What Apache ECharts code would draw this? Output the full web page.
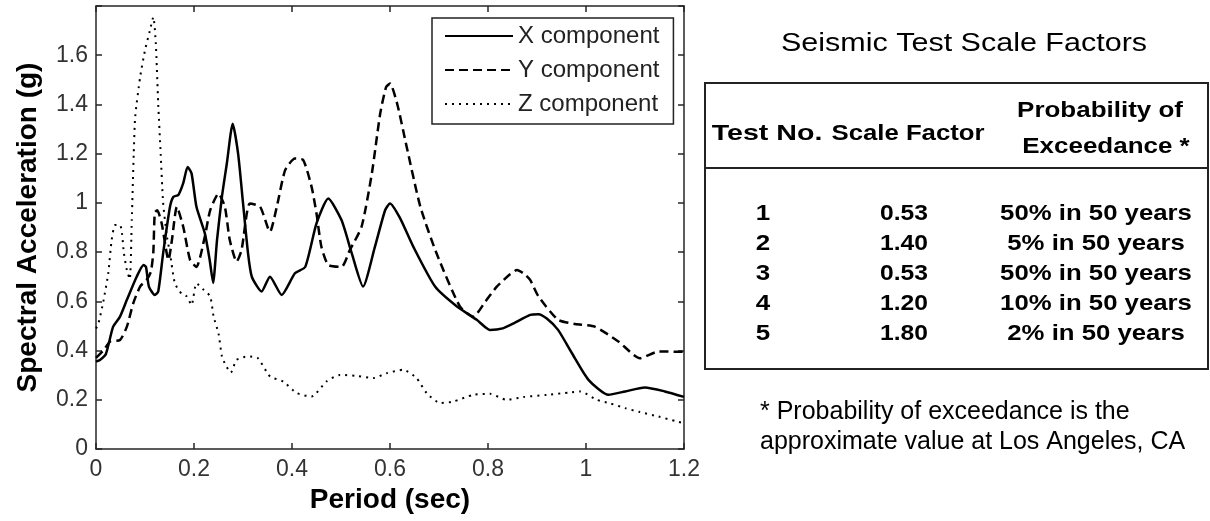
<!DOCTYPE html>
<html lang="en" style="height: 100%">
<head>
  <meta charset="utf-8">
</head>
<body style="height: 100%; margin: 0; background: #fff">
  <div id="container" style="width: 1210px; height: 521px"></div>

  <script type="text/javascript" src="https://fastly.jsdelivr.net/npm/echarts@6.0.0/dist/echarts.min.js"></script>

  <script type="text/javascript">
    // response spectra, period (sec) / acceleration (g)
    var xPeriod = [0, 0.008, 0.02, 0.035, 0.049, 0.063, 0.083, 0.097, 0.102, 0.108, 0.12, 0.127, 0.137, 0.151, 0.158, 0.168, 0.178, 0.187, 0.195, 0.205, 0.222, 0.232, 0.239, 0.247, 0.257, 0.267, 0.279, 0.29, 0.30, 0.31, 0.318, 0.338, 0.355, 0.379, 0.406, 0.427, 0.45, 0.474, 0.501, 0.522, 0.545, 0.569, 0.59, 0.60, 0.62, 0.648, 0.692, 0.736, 0.777, 0.804, 0.83, 0.852, 0.886, 0.903, 0.92, 0.943, 0.971, 1.005, 1.046, 1.08, 1.12, 1.161, 1.2];
    var xAccel = [0.355, 0.362, 0.385, 0.497, 0.538, 0.606, 0.70, 0.748, 0.74, 0.66, 0.626, 0.64, 0.795, 0.984, 1.025, 1.032, 1.08, 1.146, 1.12, 0.984, 0.877, 0.768, 0.675, 0.85, 1.025, 1.16, 1.322, 1.2, 1.0, 0.8, 0.70, 0.64, 0.70, 0.626, 0.714, 0.74, 0.917, 1.018, 0.93, 0.795, 0.66, 0.82, 0.97, 0.998, 0.94, 0.82, 0.66, 0.58, 0.525, 0.484, 0.49, 0.51, 0.545, 0.548, 0.53, 0.484, 0.39, 0.281, 0.22, 0.234, 0.25, 0.234, 0.212];

    var yPeriod = [0, 0.015, 0.029, 0.049, 0.063, 0.076, 0.09, 0.103, 0.112, 0.117, 0.12, 0.125, 0.134, 0.148, 0.155, 0.165, 0.178, 0.192, 0.205, 0.222, 0.233, 0.25, 0.263, 0.273, 0.287, 0.297, 0.314, 0.335, 0.355, 0.369, 0.386, 0.406, 0.423, 0.44, 0.45, 0.46, 0.474, 0.501, 0.518, 0.542, 0.563, 0.58, 0.592, 0.60, 0.615, 0.634, 0.662, 0.695, 0.743, 0.77, 0.795, 0.818, 0.845, 0.859, 0.875, 0.886, 0.903, 0.943, 0.978, 1.018, 1.066, 1.11, 1.148, 1.2];
    var yAccel = [0.37, 0.40, 0.437, 0.443, 0.497, 0.592, 0.66, 0.687, 0.72, 0.80, 0.96, 0.97, 0.917, 0.768, 0.85, 0.984, 0.903, 0.768, 0.74, 0.862, 0.97, 1.038, 0.984, 0.849, 0.761, 0.808, 0.998, 0.984, 0.883, 0.984, 1.133, 1.18, 1.174, 1.065, 0.957, 0.822, 0.748, 0.74, 0.808, 0.903, 1.12, 1.363, 1.47, 1.485, 1.40, 1.228, 0.984, 0.795, 0.578, 0.538, 0.60, 0.66, 0.71, 0.727, 0.71, 0.687, 0.62, 0.525, 0.508, 0.497, 0.437, 0.369, 0.396, 0.395];

    var zPeriod = [0, 0.005, 0.015, 0.025, 0.032, 0.039, 0.049, 0.053, 0.057, 0.063, 0.069, 0.073, 0.077, 0.08, 0.09, 0.10, 0.11, 0.117, 0.122, 0.127, 0.132, 0.137, 0.145, 0.151, 0.161, 0.175, 0.185, 0.195, 0.205, 0.218, 0.233, 0.24, 0.25, 0.257, 0.265, 0.275, 0.287, 0.31, 0.33, 0.355, 0.382, 0.41, 0.44, 0.47, 0.498, 0.532, 0.566, 0.593, 0.627, 0.654, 0.675, 0.702, 0.729, 0.77, 0.804, 0.838, 0.872, 0.92, 0.967, 0.988, 1.022, 1.05, 1.08, 1.11, 1.148, 1.185, 1.2];
    var zAccel = [0.49, 0.51, 0.60, 0.714, 0.85, 0.91, 0.91, 0.877, 0.795, 0.727, 0.69, 0.93, 1.2, 1.35, 1.51, 1.62, 1.70, 1.755, 1.65, 1.40, 1.20, 1.00, 0.86, 0.796, 0.673, 0.63, 0.62, 0.585, 0.673, 0.65, 0.62, 0.538, 0.47, 0.376, 0.34, 0.31, 0.362, 0.376, 0.37, 0.295, 0.274, 0.227, 0.213, 0.274, 0.301, 0.297, 0.288, 0.308, 0.322, 0.288, 0.227, 0.187, 0.193, 0.22, 0.224, 0.2, 0.211, 0.22, 0.23, 0.234, 0.2, 0.185, 0.166, 0.15, 0.132, 0.112, 0.105];

    var seriesNames = ['X component', 'Y component', 'Z component'];

    // table on the right
    var tableTitle = 'Seismic Test Scale Factors';
    var tableHeader = ['Test No.', 'Scale Factor', 'Probability of', 'Exceedance *'];
    var testNo = ['1', '2', '3', '4', '5'];
    var scaleFactor = ['0.53', '1.40', '0.53', '1.20', '1.80'];
    var exceedance = ['50% in 50 years', '5% in 50 years', '50% in 50 years', '10% in 50 years', '2% in 50 years'];
    var footnote = ['* Probability of exceedance is the', 'approximate value at Los Angeles, CA'];

    var FONT = '"Liberation Sans", Arial, Helvetica, sans-serif';

    function zip(xs, ys) {
      return xs.map(function (x, i) { return [x, ys[i]]; });
    }

    function txt(x, y, text, size, bold, align, sx) {
      return {
        type: 'text', x: x, y: y, scaleX: sx || 1,
        style: {
          text: text, fill: '#000',
          font: (bold ? 'bold ' : '') + size + 'px ' + FONT,
          align: align || 'center', verticalAlign: 'middle'
        }
      };
    }

    var graphic = [];
    graphic.push(txt(964, 44, tableTitle, 25, false, 'center', 1.22));
    graphic.push({
      type: 'rect', shape: { x: 705, y: 83, width: 503, height: 286 },
      style: { fill: 'none', stroke: '#222', lineWidth: 2 }
    });
    graphic.push({
      type: 'line', shape: { x1: 705, y1: 168, x2: 1208, y2: 168 },
      style: { stroke: '#222', lineWidth: 2 }
    });
    graphic.push(txt(767, 134, tableHeader[0], 22, true, 'center', 1.3));
    graphic.push(txt(908, 134, tableHeader[1], 22, true, 'center', 1.17));
    graphic.push(txt(1100, 111, tableHeader[2], 22, true, 'center', 1.18));
    graphic.push(txt(1106, 147, tableHeader[3], 22, true, 'center', 1.18));
    testNo.forEach(function (t, i) {
      var y = 214 + i * 30;
      graphic.push(txt(763, y, t, 22, true, 'center', 1.18));
      graphic.push(txt(904, y, scaleFactor[i], 22, true, 'center', 1.12));
      graphic.push(txt(1096, y, exceedance[i], 22, true, 'center', 1.17));
    });
    footnote.forEach(function (t, i) {
      graphic.push(txt(760, 412 + i * 30, t, 25, false, 'left', 1.0));
    });

    var dom = document.getElementById('container');
    var myChart = echarts.init(dom, null, { renderer: 'canvas' });

    var axisColor = '#262626';
    var frameLine = { show: true, onZero: false, lineStyle: { color: axisColor, width: 1.5 } };
    var frameTick = { show: true, inside: true, length: 6, lineStyle: { color: axisColor, width: 1.5 } };

    var option = {
      backgroundColor: '#fff',
      animation: false,
      textStyle: { fontFamily: FONT },
      grid: { left: 96, right: 526, top: 6, bottom: 72 },
      legend: {
        orient: 'vertical',
        left: 432, top: 18,
        padding: [6, 14, 8, 12],
        itemGap: 10,
        itemWidth: 68, itemHeight: 14,
        borderColor: '#222', borderWidth: 1.5,
        backgroundColor: '#fff',
        itemStyle: { opacity: 0 },
        textStyle: { fontSize: 24, color: '#222', fontFamily: FONT },
        data: seriesNames
      },
      xAxis: [{
        type: 'value', min: 0, max: 1.2, interval: 0.2,
        name: 'Period (sec)', nameLocation: 'middle', nameGap: 30,
        nameTextStyle: { fontSize: 28, fontWeight: 'bold', color: '#000', fontFamily: FONT },
        axisLine: frameLine,
        axisTick: frameTick,
        axisLabel: { fontSize: 23, color: '#333', margin: 9 },
        splitLine: { show: false }
      }, {
        type: 'value', min: 0, max: 1.2, interval: 0.2, position: 'top',
        axisLine: frameLine,
        axisTick: frameTick,
        axisLabel: { show: false },
        splitLine: { show: false }
      }],
      yAxis: [{
        type: 'value', min: 0, max: 1.8, interval: 0.2,
        name: 'Spectral Acceleration (g)', nameLocation: 'middle', nameGap: 54,
        nameTextStyle: { fontSize: 28, fontWeight: 'bold', color: '#000', fontFamily: FONT },
        axisLine: frameLine,
        axisTick: frameTick,
        axisLabel: {
          fontSize: 23, color: '#333', margin: 8,
          formatter: function (v) { return v > 1.7 ? '' : String(v); }
        },
        splitLine: { show: false }
      }, {
        type: 'value', min: 0, max: 1.8, interval: 0.2, position: 'right',
        axisLine: frameLine,
        axisTick: frameTick,
        axisLabel: { show: false },
        splitLine: { show: false }
      }],
      series: [{
        name: seriesNames[0], type: 'line', symbol: 'none', smooth: 0.2,
        lineStyle: { color: '#000', width: 2.5, type: 'solid' },
        itemStyle: { color: '#000' },
        data: zip(xPeriod, xAccel)
      }, {
        name: seriesNames[1], type: 'line', symbol: 'none', smooth: 0.2,
        lineStyle: { color: '#000', width: 2.5, type: [9, 5] },
        itemStyle: { color: '#000' },
        data: zip(yPeriod, yAccel)
      }, {
        name: seriesNames[2], type: 'line', symbol: 'none', smooth: 0.2,
        lineStyle: { color: '#000', width: 2, type: [2, 5] },
        itemStyle: { color: '#000' },
        data: zip(zPeriod, zAccel)
      }],
      graphic: graphic
    };

    myChart.setOption(option);
    window.addEventListener('resize', myChart.resize);
  </script>
</body>
</html>
